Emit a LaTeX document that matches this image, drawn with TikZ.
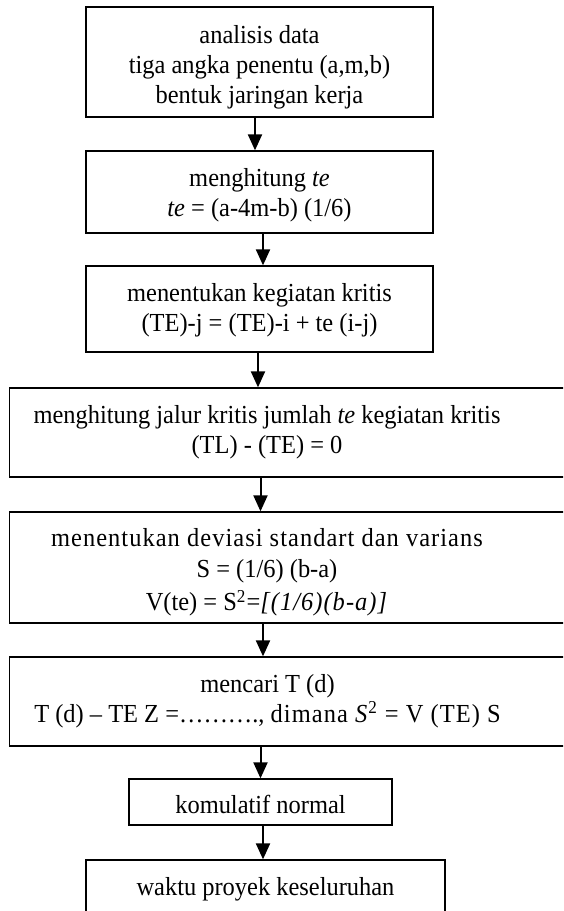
\documentclass[tikz,border=0pt]{standalone}
\usepackage{fontspec}
\setmainfont{Liberation Serif}[FakeStretch=0.94]
\usetikzlibrary{arrows.meta}
\newcommand{\spaced}[1]{{\addfontfeature{LetterSpace=4}#1}}
\begin{document}
\begin{tikzpicture}[x=0.5pt,y=-0.5pt,
    box/.style={draw,line width=0.65pt,inner sep=0pt},
    txt/.style={inner sep=0pt,align=center,font=\fontsize{13}{15}\selectfont},
    arr/.style={line width=1pt,-{Triangle[length=8pt,width=7pt]}}]
        \useasboundingbox (0,0) rectangle (563,911);
        \clip (0,0) rectangle (563,911);
        %% boxes
        \node[box,minimum width=173.5pt,minimum height=55pt] (b1) at (259.5,62) {};
        \node[box,minimum width=173.5pt,minimum height=41pt] (b2) at (259.5,192) {};
        \node[box,minimum width=173.5pt,minimum height=43pt] (b3) at (259.5,309) {};
        \node[box,minimum width=305pt,minimum height=44.5pt] (b4) at (314.5,432.5) {};
        \node[box,minimum width=305pt,minimum height=55.5pt] (b5) at (314.5,567.5) {};
        \node[box,minimum width=305pt,minimum height=44.5pt] (b6) at (314.5,701.5) {};
        \node[box,minimum width=131.5pt,minimum height=23pt] (b7) at (260.5,802) {};
        \node[box,minimum width=179.5pt,minimum height=29pt] (b8) at (265.5,889) {};
        %% texts
        \node[txt] (t1) at (259.5,67)
            {analisis data\\ tiga angka penentu (a,m,b)\\ bentuk jaringan kerja};
        \node[txt] (t2) at (259.5,195)
            {menghitung \textit{te}\\ \textit{te} = (a-4m-b) (1/6)};
        \node[txt] (t3) at (259.5,310)
            {menentukan kegiatan kritis\\ (TE)-j = (TE)-i + te (i-j)};
        \node[txt] (t4) at (267,432)
            {menghitung jalur kritis jumlah \textit{te} kegiatan kritis\\ (TL) - (TE) = 0};
        \node[txt] (t5) at (267,572.5)
            {\spaced{menentukan deviasi standart dan varians}\\[0.5pt] S = (1/6) (b-a)\\[1.5pt]
             V(te) = S\textsuperscript{2}=\textit{\spaced{[(1/6)(b-a)]}}};
        \node[txt] (t6) at (267.5,701)
            {mencari T (d)\\ T (d) -- TE Z =\ldots\ldots\ldots., \spaced{dimana \textit{S}\textsuperscript{2} = V (TE) S}};
        \node[txt] (t7) at (260.5,804.3) {komulatif normal};
        \node[txt] (t8) at (265.5,889) {waktu proyek keseluruhan};
        %% arrows
        \draw[arr] ([xshift=-2.25pt]b1.south) -- ([xshift=-2.25pt]b1.south |- b2.north);
        \draw[arr] ([xshift=1.75pt]b2.south) -- ([xshift=1.75pt]b2.south |- b3.north);
        \draw[arr] ([xshift=-0.75pt]b3.south) -- ([xshift=-0.75pt]b3.south |- b4.north);
        \draw[arr] (b4.south -| b7.north) -- (b5.north -| b7.north);
        \draw[arr] ([xshift=1.25pt]b5.south -| b7.north) -- ([xshift=1.25pt]b6.north -| b7.north);
        \draw[arr] (b6.south -| b7.north) -- (b7.north);
        \draw[arr] ([xshift=1.25pt]b7.south) -- ([xshift=1.25pt]b7.south |- b8.north);
    \end{tikzpicture}
\end{document}
